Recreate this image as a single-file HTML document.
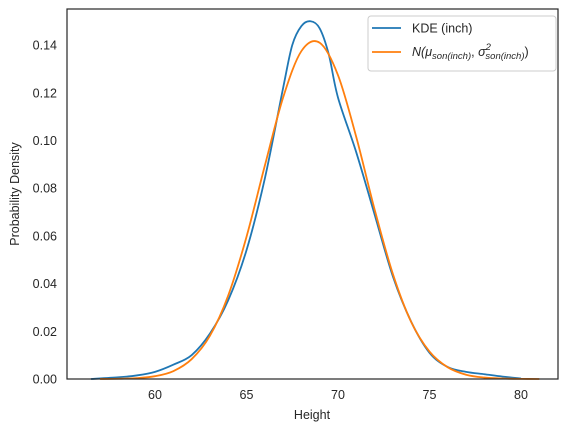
<!DOCTYPE html>
<html><head><meta charset="utf-8"><style>
body{margin:0;background:#fff}
svg{display:block;font-family:"Liberation Sans","DejaVu Sans",sans-serif}
</style></head><body>
<svg width="572" height="432" viewBox="0 0 572 432">
<g id="plot"></g>
<rect x="67" y="9" width="491" height="370" fill="none" stroke="#262626" stroke-width="1.2"/>
<g id="xt" font-size="12.5" fill="#262626" text-anchor="middle"></g>
<g id="yt" font-size="12.5" fill="#262626" text-anchor="end"></g>
<text x="312" y="419" font-size="12.5" fill="#262626" text-anchor="middle">Height</text>
<text x="19" y="194" font-size="12.5" fill="#262626" text-anchor="middle" transform="rotate(-90 19 194)">Probability Density</text>
<g>
<rect x="368" y="16" width="188" height="55" rx="3" fill="#fff" stroke="#ccc" stroke-width="1"/>
<line x1="372" y1="28" x2="401" y2="28" stroke="#1f77b4" stroke-width="1.8"/>
<text x="412" y="32.5" font-size="12.5" fill="#262626">KDE (inch)</text>
<line x1="372" y1="52" x2="401" y2="52" stroke="#ff7f0e" stroke-width="1.8"/>
<text x="412" y="56" font-size="12.5" fill="#262626" font-style="italic">N(μ<tspan font-size="9.5" dy="3">son(inch)</tspan><tspan dy="-3" font-style="normal">, </tspan>σ<tspan font-size="9.5" dy="-6">2</tspan><tspan font-size="9.5" dx="-5.5" dy="9">son(inch)</tspan><tspan dy="-3" font-style="normal">)</tspan></text>
</g>
</svg>
<script>
const xTicks=[60,65,70,75,80];
const yTicks=[0,0.02,0.04,0.06,0.08,0.10,0.12,0.14];
const yLabels=["0.00","0.02","0.04","0.06","0.08","0.10","0.12","0.14"];
const kdeX=[56.5,58,59,60,61,62,63,64,65,66,67,67.5,68,68.5,69,69.5,70,71,72,73,74,75,76,77,78,79,80];
const kdeY=[0,0.0007,0.0015,0.003,0.006,0.010,0.019,0.033,0.054,0.084,0.122,0.140,0.148,0.150,0.147,0.136,0.118,0.095,0.069,0.043,0.024,0.011,0.005,0.003,0.002,0.001,0.0002];
const normX=[57,58,59,60,61,62,63,64,65,66,67,68,69,70,71,72,73,74,75,76,77,78,79,80,81];
const normY=[0.00002,0.0001,0.00037,0.00118,0.0033,0.0083,0.0181,0.035,0.0596,0.0894,0.118,0.1375,0.141,0.1274,0.1014,0.0711,0.044,0.0239,0.0115,0.0049,0.0018,0.0006,0.0002,0.00005,0.00001];
const sx=v=>155+(v-60)*18.3;
const sy=v=>379-v*2385;
const NS="http://www.w3.org/2000/svg";
function path(xs,ys){
  const p=xs.map((x,i)=>[sx(x),sy(ys[i])]);
  let d="M"+p[0][0]+","+p[0][1];
  for(let i=0;i<p.length-1;i++){
    const p0=p[Math.max(0,i-1)],p1=p[i],p2=p[i+1],p3=p[Math.min(p.length-1,i+2)];
    const c1=[p1[0]+(p2[0]-p0[0])/6,p1[1]+(p2[1]-p0[1])/6];
    const c2=[p2[0]-(p3[0]-p1[0])/6,p2[1]-(p3[1]-p1[1])/6];
    d+=` C${c1[0]},${c1[1]} ${c2[0]},${c2[1]} ${p2[0]},${p2[1]}`;
  }
  return d;
}
const g=document.getElementById("plot");
const l1=document.createElementNS(NS,"path");


l1.setAttribute("d",path(kdeX,kdeY));l1.setAttribute("fill","none");l1.setAttribute("stroke","#1f77b4");l1.setAttribute("stroke-width","1.8");
g.appendChild(l1);
const l2=document.createElementNS(NS,"path");


l2.setAttribute("d",path(normX,normY));l2.setAttribute("fill","none");l2.setAttribute("stroke","#ff7f0e");l2.setAttribute("stroke-width","1.8");
g.appendChild(l2);
const xt=document.getElementById("xt");
xTicks.forEach(v=>{const t=document.createElementNS(NS,"text");


t.setAttribute("x",sx(v));t.setAttribute("y",399);t.textContent=v;xt.appendChild(t);});
const yt=document.getElementById("yt");
yTicks.forEach((v,i)=>{const t=document.createElementNS(NS,"text");


t.setAttribute("x",57);t.setAttribute("y",sy(v)+4.5);t.textContent=yLabels[i];yt.appendChild(t);});
</script>
</body></html>
